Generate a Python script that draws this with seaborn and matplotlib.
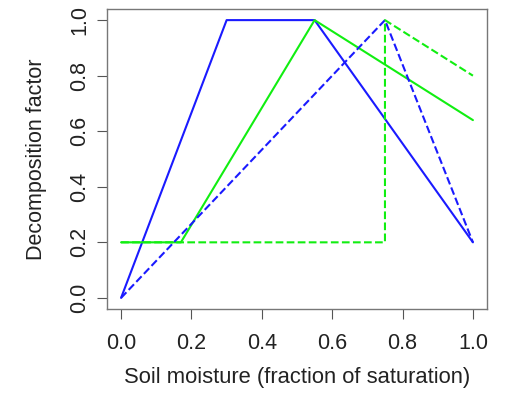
import matplotlib
matplotlib.use("Agg")
import matplotlib.pyplot as plt
import seaborn as sns
import pandas as pd

# Data
blue_solid_x = [0.0, 0.30, 0.55, 1.0]
blue_solid_y = [0.0, 1.0, 1.0, 0.2]
green_solid_x = [0.0, 0.17, 0.55, 1.0]
green_solid_y = [0.2, 0.2, 1.0, 0.64]
blue_dashed_x = [0.0, 0.75, 1.0]
blue_dashed_y = [0.0, 1.0, 0.2]
green_dashed_x = [0.0, 0.75, 0.75, 1.0]
green_dashed_y = [0.2, 0.2, 1.0, 0.8]

x_ticks = [0.0, 0.2, 0.4, 0.6, 0.8, 1.0]
y_ticks = [0.0, 0.2, 0.4, 0.6, 0.8, 1.0]
x_label = "Soil moisture (fraction of saturation)"
y_label = "Decomposition factor"

sns.set_style("white")
plt.rcParams['font.family'] = ['Liberation Sans', 'DejaVu Sans']

BLUE = "#1a1aff"
GREEN = "#11ee11"
FS = 15.5

fig = plt.figure(figsize=(5.13, 3.94), dpi=100)
ax = fig.add_axes([107/513, 1 - 309/394, (487-107)/513, (309-9)/394])

series = [
    (blue_solid_x, blue_solid_y, BLUE, "-"),
    (green_solid_x, green_solid_y, GREEN, "-"),
    (blue_dashed_x, blue_dashed_y, BLUE, "--"),
    (green_dashed_x, green_dashed_y, GREEN, "--"),
]
for xs, ys, col, ls in series:
    df = pd.DataFrame({"x": xs, "y": ys, "o": range(len(xs))})
    sns.lineplot(data=df, x="x", y="y", sort=False, estimator=None, ax=ax,
                 color=col, lw=1.5, linestyle=ls,
                 dashes=(4, 4) if ls == "--" else None)

ax.set_xlim(-0.04, 1.04)
ax.set_ylim(-0.04, 1.04)
ax.set_xticks(x_ticks)
ax.set_yticks(y_ticks)
ax.set_xticklabels([f"{v:.1f}" for v in x_ticks])
ax.set_yticklabels([f"{v:.1f}" for v in y_ticks], rotation=90, va="center")
ax.tick_params(axis="both", direction="out", length=7, width=0.8,
               color="#555555", labelsize=FS, labelcolor="#222222",
               bottom=True, left=True)
ax.tick_params(axis="x", pad=10)
ax.tick_params(axis="y", pad=5)
for s in ax.spines.values():
    s.set_color("#777777")
    s.set_linewidth(1.0)
ax.set_xlabel(x_label, fontsize=15.8, color="#222222")
ax.set_ylabel(y_label, fontsize=FS, color="#222222")
ax.xaxis.set_label_coords(0.5, -(378 - 309) / 300, transform=ax.transAxes)
ax.yaxis.set_label_coords(-(107 - 36) / 380, 0.5, transform=ax.transAxes)
ax.xaxis.label.set_va("center")
ax.yaxis.label.set_va("center")

fig.savefig("out.png", dpi=100)
